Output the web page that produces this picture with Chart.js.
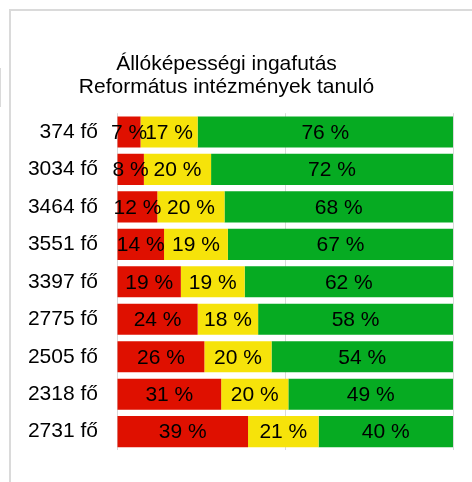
<!DOCTYPE html>
<html>
<head>
<meta charset="utf-8">
<script src="https://cdn.jsdelivr.net/npm/chart.js@4"></script>
<style>
  body { margin: 0; background: #fff; }
  #wrap { position: relative; width: 472px; height: 482px; overflow: hidden; }
  #frame { position: absolute; left: 9px; top: 9px; width: 480px; height: 480px;
           border-left: 2px solid #dadada; border-top: 2px solid #dadada; }
  #tick { position: absolute; left: 0; top: 68px; width: 1px; height: 39px; background: #dadada; }
  canvas { position: absolute; left: 0; top: 0; }
</style>
</head>
<body>
<div id="wrap">
  <div id="frame"></div>
  <div id="tick"></div>
  <canvas id="fitness" width="472" height="482"></canvas>
</div>
<script>
// categories (number of pupils) and the three bands in percent
const groups = ['374 fő', '3034 fő', '3464 fő', '3551 fő', '3397 fő', '2775 fő', '2505 fő', '2318 fő', '2731 fő'];
const redPart = [7, 8, 12, 14, 19, 24, 26, 31, 39];
const yellowPart = [17, 20, 20, 19, 19, 18, 20, 20, 21];
const greenPart = [76, 72, 68, 67, 62, 58, 54, 49, 40];
const titleLines = ['Állóképességi ingafutás', 'Református intézmények tanuló'];

const FONT = 'Arial, "Liberation Sans", sans-serif';

// writes "x %" in the middle of every segment
const segmentLabels = {
  id: 'segmentLabels',
  afterDatasetsDraw(chart) {
    const ctx = chart.ctx;
    ctx.save();
    ctx.font = '21px ' + FONT;
    ctx.fillStyle = '#000';
    ctx.textAlign = 'center';
    ctx.textBaseline = 'middle';
    chart.data.datasets.forEach((ds, i) => {
      chart.getDatasetMeta(i).data.forEach((bar, j) => {
        const cx = (bar.x + bar.base) / 2;
        ctx.fillText(ds.data[j] + ' %', cx, bar.y + 1);
      });
    });
    ctx.restore();
  }
};

const fitnessdata = {
  labels: groups,
  datasets: [
    { label: 'piros', data: redPart, backgroundColor: '#df1000' },
    { label: 'sárga', data: yellowPart, backgroundColor: '#f6e30a' },
    { label: 'zöld', data: greenPart, backgroundColor: '#06ab22' }
  ]
};

const fitnessconfig = {
  type: 'bar',
  data: fitnessdata,
  options: {
    indexAxis: 'y',
    responsive: false,
    animation: false,
    barPercentage: 0.83,
    categoryPercentage: 1,
    layout: { padding: { left: 0, right: 19, top: 0, bottom: 21 } },
    plugins: {
      legend: { display: false },
      tooltip: { enabled: false },
      title: {
        display: true,
        text: titleLines,
        color: '#000',
        font: { family: FONT, size: 21, weight: 'normal', lineHeight: 1.1 },
        padding: { top: 53, bottom: 14 }
      }
    },
    scales: {
      x: {
        stacked: true,
        min: 0,
        max: 100,
        ticks: { display: false, stepSize: 50 },
        grid: { color: '#d9d9d9', lineWidth: 1, drawTicks: false },
        border: { display: false }
      },
      y: {
        stacked: true,
        grid: { display: false, drawTicks: false },
        border: { display: false },
        ticks: { color: '#000', padding: 19, font: { family: FONT, size: 21 } },
        afterFit(scale) { scale.width = 117; }
      }
    }
  },
  plugins: [segmentLabels]
};

const fitnesschart = new Chart(document.getElementById('fitness'), fitnessconfig);
</script>
</body>
</html>
